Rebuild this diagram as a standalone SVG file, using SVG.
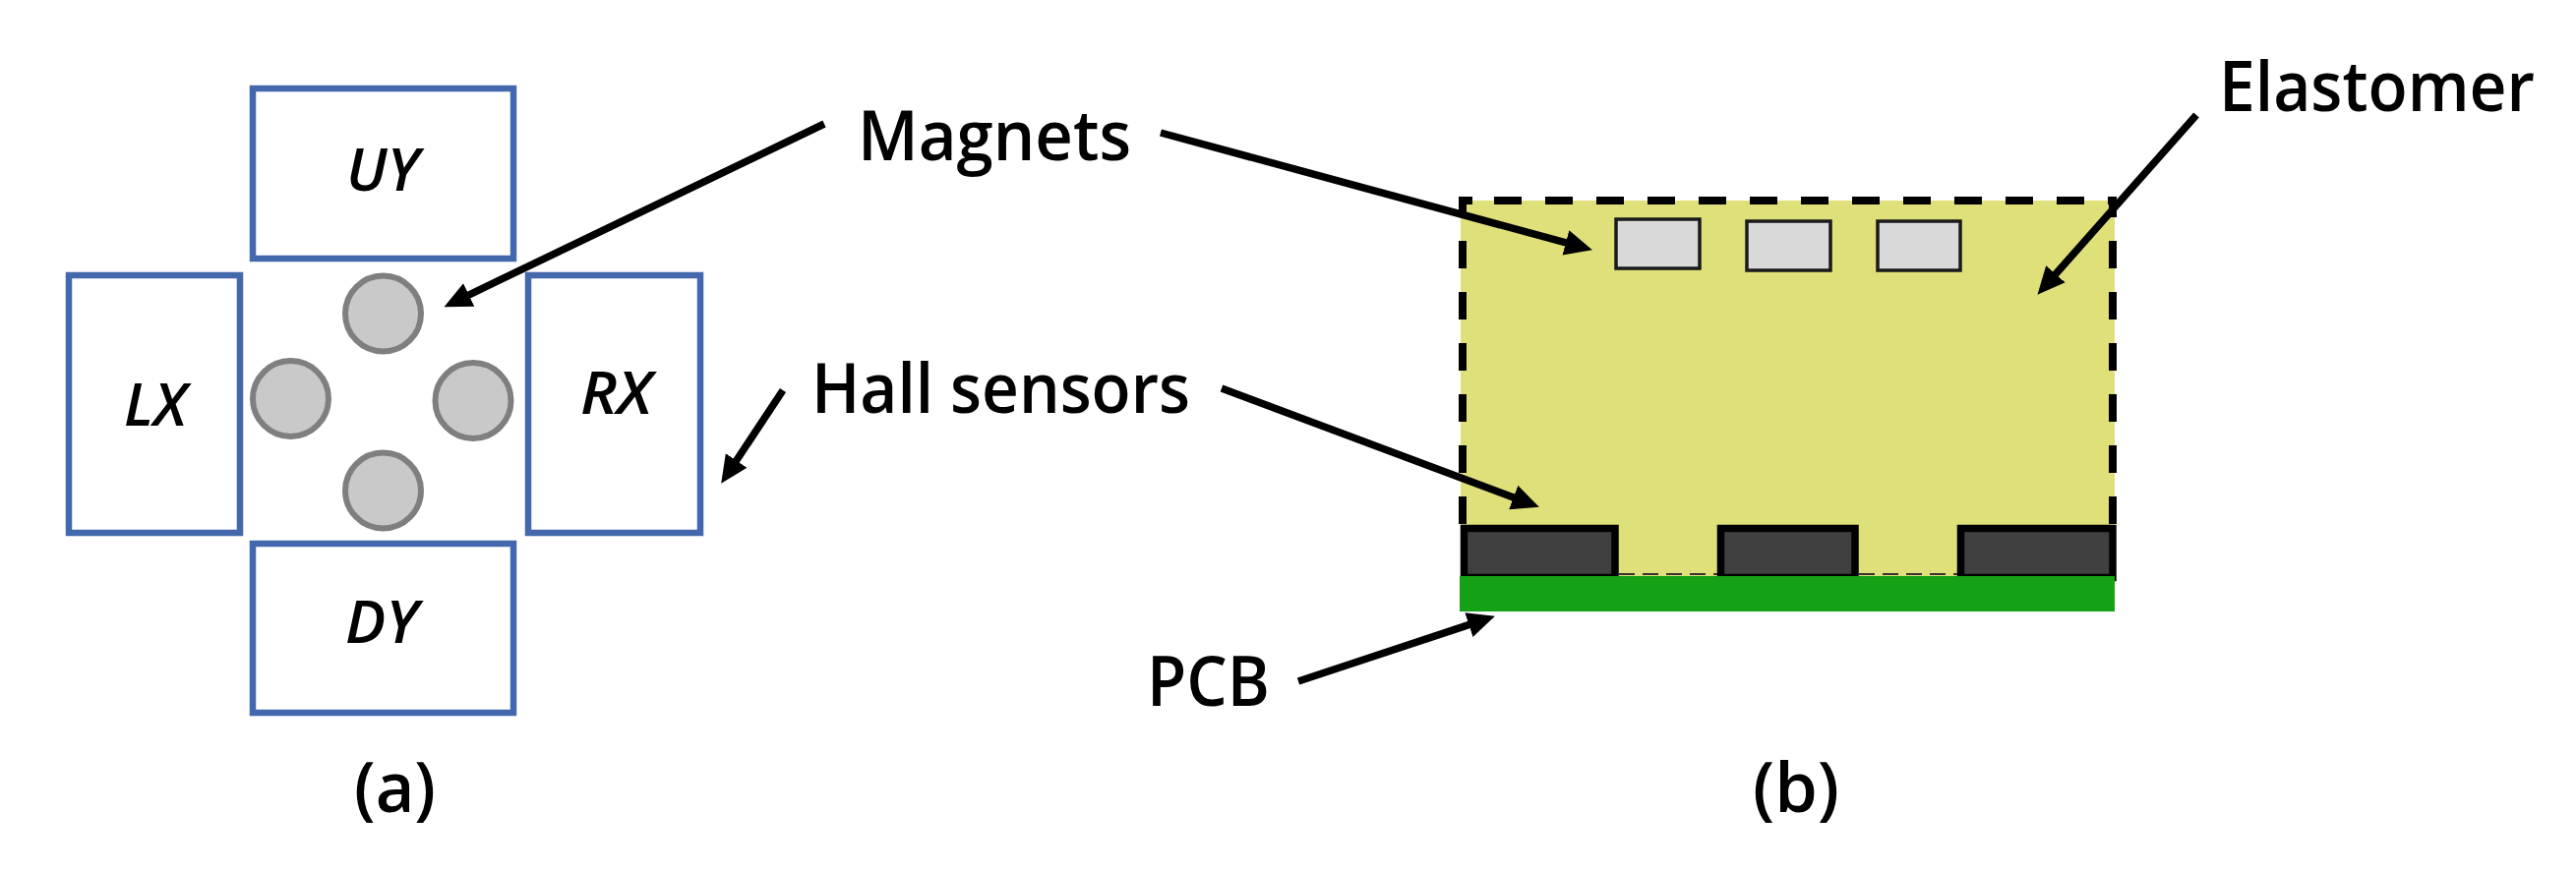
<svg xmlns="http://www.w3.org/2000/svg" width="2619" height="886" viewBox="0 0 2619 886">
<style>
.box{fill:#fff;stroke:#4468AD;stroke-width:6.500}
.mag{fill:#C9C9C9;stroke:#7F7F7F;stroke-width:6}
.bar{fill:#D9D9D9;stroke:#1a1a1a;stroke-width:3.5}
.sensor{fill:#404040;stroke:#000;stroke-width:7.500}
.dash{fill:none;stroke:#000;stroke-width:8;stroke-dasharray:28 24}
.arrow{fill:none;stroke:#000;stroke-width:7.500}
.inner{font-family:"Open Sans","Liberation Sans",sans-serif;font-style:italic;font-weight:600;font-size:60px;fill:#000}
.label{font-family:"Open Sans","Liberation Sans",sans-serif;font-weight:600;font-size:70px;fill:#000}
</style>
<defs>
<marker id="head" markerUnits="userSpaceOnUse" markerWidth="32" markerHeight="32" refX="3" refY="16" orient="auto">
<path d="M0,3 L28,16 L0,29 z" fill="#000"/>
</marker>
</defs>
<rect width="2619" height="886" fill="#fff"/>
<g id="UY"><rect class="box" x="257" y="90" width="265" height="173"/><text class="inner" x="352" y="194" textLength="74" lengthAdjust="spacingAndGlyphs">UY</text></g>
<g id="LX"><rect class="box" x="70" y="280" width="174" height="262"/><text class="inner" x="126" y="433" textLength="64" lengthAdjust="spacingAndGlyphs">LX</text></g>
<g id="RX"><rect class="box" x="537" y="280" width="175" height="262"/><text class="inner" x="590" y="421" textLength="73" lengthAdjust="spacingAndGlyphs">RX</text></g>
<g id="DY"><rect class="box" x="257" y="553" width="265" height="172"/><text class="inner" x="351" y="654" textLength="74" lengthAdjust="spacingAndGlyphs">DY</text></g>
<g id="magnets-a">
<circle class="mag" cx="389.500" cy="319" r="38.500"/>
<circle class="mag" cx="295.500" cy="405.500" r="38.500"/>
<circle class="mag" cx="481" cy="407.500" r="38.500"/>
<circle class="mag" cx="389.500" cy="499" r="38.500"/>
</g>
<g id="elastomer">
<rect x="1485" y="204" width="665" height="385" fill="#E0E07A"/>
<path class="dash" d="M1519,204 H2150"/>
<path class="dash" d="M1487,533 V200"/>
<path class="dash" d="M2148,533 V200"/>
<path d="M1483,204 H1497 M2143,204 H2152" stroke="#000" stroke-width="8" fill="none"/>
<path d="M1646,584 H1746 M1890,584 H1990" stroke="#333" stroke-width="2" stroke-dasharray="16 8" fill="none"/>
</g>
<g id="magnets-b">
<rect class="bar" x="1643" y="223" width="85" height="50"/>
<rect class="bar" x="1776" y="225" width="85" height="50"/>
<rect class="bar" x="1909" y="225" width="84" height="50"/>
</g>
<g id="hall-sensors">
<rect class="sensor" x="1488.500" y="537.500" width="153.500" height="50"/>
<rect class="sensor" x="1749.500" y="537.500" width="136.500" height="50"/>
<rect class="sensor" x="1993.500" y="537.500" width="154.500" height="50"/>
</g>
<g id="pcb"><rect x="1484" y="586" width="666" height="36" fill="#15A115"/></g>
<g id="connectors">
<line class="arrow" x1="838" y1="126" x2="474" y2="301.300" marker-end="url(#head)"/>
<line class="arrow" x1="796" y1="397" x2="747" y2="471" marker-end="url(#head)"/>
<line class="arrow" x1="1180" y1="135" x2="1594.800" y2="247.700" marker-end="url(#head)"/>
<line class="arrow" x1="1242" y1="395" x2="1541.500" y2="507.100" marker-end="url(#head)"/>
<line class="arrow" x1="2233" y1="117" x2="2088" y2="281" marker-end="url(#head)"/>
<line class="arrow" x1="1320" y1="693" x2="1496.200" y2="634.600" marker-end="url(#head)"/>
</g>
<g id="labels">
<text class="label" x="872" y="163" textLength="278" lengthAdjust="spacingAndGlyphs">Magnets</text>
<text class="label" x="825" y="420" textLength="385" lengthAdjust="spacingAndGlyphs">Hall sensors</text>
<text class="label" x="2256" y="113" textLength="321" lengthAdjust="spacingAndGlyphs">Elastomer</text>
<text class="label" x="1166" y="718" textLength="125" lengthAdjust="spacingAndGlyphs">PCB</text>
<text class="label" x="360" y="826" textLength="83" lengthAdjust="spacingAndGlyphs">(a)</text>
<text class="label" x="1782" y="826" textLength="88" lengthAdjust="spacingAndGlyphs">(b)</text>
</g>
</svg>
